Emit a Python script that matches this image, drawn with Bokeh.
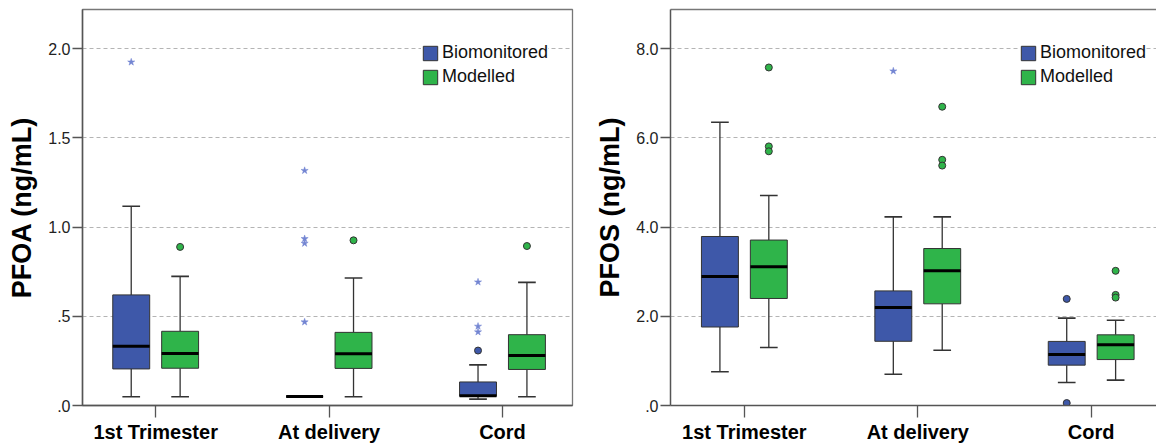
from bokeh.plotting import figure
from bokeh.layouts import row
from bokeh.models import (FixedTicker, CustomJSTickFormatter, Legend, LegendItem,
                          LinearAxis)
from bokeh.embed import file_html
from bokeh.resources import INLINE

categories = ["1st Trimester", "At delivery", "Cord"]
series_names = ["Biomonitored", "Modelled"]

# ---------------- PFOA (ng/mL) ----------------
pfoa_bio_low = [0.049, 0.050, 0.036]
pfoa_bio_q1 = [0.205, 0.050, 0.052]
pfoa_bio_med = [0.332, 0.050, 0.054]
pfoa_bio_q3 = [0.620, 0.050, 0.132]
pfoa_bio_high = [1.117, 0.050, 0.228]
pfoa_bio_circles = [[], [], [0.308]]
pfoa_bio_stars = [[1.925], [1.317, 0.935, 0.909, 0.468], [0.692, 0.444, 0.412]]

pfoa_mod_low = [0.049, 0.049, 0.049]
pfoa_mod_q1 = [0.209, 0.208, 0.202]
pfoa_mod_med = [0.291, 0.290, 0.281]
pfoa_mod_q3 = [0.416, 0.410, 0.397]
pfoa_mod_high = [0.724, 0.715, 0.690]
pfoa_mod_circles = [[0.889], [0.926], [0.894]]
pfoa_mod_stars = [[], [], []]

# ---------------- PFOS (ng/mL) ----------------
pfos_bio_low = [0.756, 0.700, 0.516]
pfos_bio_q1 = [1.760, 1.440, 0.905]
pfos_bio_med = [2.890, 2.200, 1.145]
pfos_bio_q3 = [3.790, 2.570, 1.437]
pfos_bio_high = [6.350, 4.230, 1.960]
pfos_bio_circles = [[], [], [2.390, 0.055]]
pfos_bio_stars = [[], [7.500], []]

pfos_mod_low = [1.300, 1.240, 0.570]
pfos_mod_q1 = [2.400, 2.280, 1.030]
pfos_mod_med = [3.110, 3.020, 1.360]
pfos_mod_q3 = [3.710, 3.520, 1.585]
pfos_mod_high = [4.710, 4.230, 1.910]
pfos_mod_circles = [[7.580, 5.810, 5.700], [6.700, 5.510, 5.380], [3.020, 2.480, 2.420]]
pfos_mod_stars = [[], [], []]

pfoa_ticks = [0.0, 0.5, 1.0, 1.5, 2.0]
pfos_ticks = [0.0, 2.0, 4.0, 6.0, 8.0]

BLUE = "#3e58a9"
GREEN = "#2fb44a"
STAR = "#7385d2"
EDGE = "#333333"
FONT = "Liberation Sans"

OFFSETS = [-0.141, 0.141]
BOX_W = 0.213
CAP_W = 0.102


def draw_series(p, off, low, q1, med, q3, high, circles, stars, color):
    xs = [i + 1 + off for i in range(len(categories))]
    # whiskers
    p.segment(x0=xs, y0=q3, x1=xs, y1=high, line_color=EDGE, line_width=1.3)
    p.segment(x0=xs, y0=q1, x1=xs, y1=low, line_color=EDGE, line_width=1.3)
    cl = [x - CAP_W / 2 for x in xs]
    cr = [x + CAP_W / 2 for x in xs]
    p.segment(x0=cl, y0=high, x1=cr, y1=high, line_color=EDGE, line_width=1.6)
    p.segment(x0=cl, y0=low, x1=cr, y1=low, line_color=EDGE, line_width=1.6)
    # boxes
    bl = [x - BOX_W / 2 for x in xs]
    br = [x + BOX_W / 2 for x in xs]
    box = p.quad(left=bl, right=br, bottom=q1, top=q3, fill_color=color,
                 line_color=EDGE, line_width=1.0)
    p.segment(x0=bl, y0=med, x1=br, y1=med, line_color="black", line_width=3)
    # outliers
    ox, oy = [], []
    for x, vals in zip(xs, circles):
        for v in vals:
            ox.append(x)
            oy.append(v)
    if ox:
        p.scatter(ox, oy, marker="circle", size=7, fill_color=color,
                  line_color=EDGE, line_width=1)
    sx, sy = [], []
    for x, vals in zip(xs, stars):
        for v in vals:
            sx.append(x)
            sy.append(v)
    if sx:
        p.scatter(sx, sy, marker="star", size=7.5, fill_color=STAR,
                  line_color=STAR, line_width=0.5)
    return box


def make_panel(title_label, ticks, ymax, x_start, frame_w, border_left,
               border_right, outline, legend_xy, data_bio, data_mod):
    p = figure(frame_width=frame_w, frame_height=396,
               x_range=(x_start, x_start + frame_w / 173.4),
               y_range=(0, ymax),
               min_border_left=border_left, min_border_right=border_right,
               min_border_top=9, min_border_bottom=39,
               output_backend="svg", toolbar_location=None,
               background_fill_color="white", border_fill_color="white")
    p.outline_line_color = "#777777" if outline else None
    p.outline_line_width = 1.3

    p.xgrid.visible = False
    p.ygrid.ticker = FixedTicker(ticks=ticks[1:])
    p.ygrid.grid_line_color = "#b4b4b4"
    p.ygrid.grid_line_dash = "4 3"
    p.ygrid.grid_line_width = 1

    # y axis
    ya = p.yaxis[0]
    ya.ticker = FixedTicker(ticks=ticks)
    ya.formatter = CustomJSTickFormatter(
        code="const s = tick.toFixed(1); return s.charAt(0) == '0' ? s.substring(1) : s;")
    ya.axis_label = title_label
    ya.axis_label_text_font = FONT
    ya.axis_label_text_font_size = "27px"
    ya.axis_label_text_font_style = "bold"
    ya.axis_label_text_color = "black"
    ya.axis_label_standoff = 8
    ya.major_label_text_font = FONT
    ya.major_label_text_font_size = "16px"
    ya.major_label_text_color = "#222222"
    ya.major_label_standoff = 2
    ya.major_tick_out = 10
    ya.major_tick_in = 0
    ya.minor_tick_out = 0
    ya.minor_tick_in = 0
    ya.axis_line_color = "#555555"
    ya.axis_line_width = 1.5
    ya.major_tick_line_color = "#555555"
    ya.major_tick_line_width = 1.3

    # x axis
    xa = p.xaxis[0]
    xa.ticker = FixedTicker(ticks=[1, 2, 3])
    xa.formatter = CustomJSTickFormatter(
        args=dict(labels=categories),
        code="const i = Math.round(tick) - 1; return (i >= 0 && i < labels.length) ? labels[i] : '';")
    xa.major_label_text_font = FONT
    xa.major_label_text_font_size = "20px"
    xa.major_label_text_font_style = "bold"
    xa.major_label_text_color = "black"
    xa.major_label_standoff = 3
    xa.major_tick_out = 12
    xa.major_tick_in = 0
    xa.minor_tick_out = 0
    xa.minor_tick_in = 0
    xa.axis_line_color = "#555555"
    xa.axis_line_width = 1.5
    xa.major_tick_line_color = "#555555"
    xa.major_tick_line_width = 1.3

    if not outline:
        top = LinearAxis(ticker=FixedTicker(ticks=[]), major_tick_out=0,
                         major_tick_in=0, minor_tick_out=0, minor_tick_in=0,
                         major_label_standoff=0, axis_line_color="#777777",
                         axis_line_width=1.3, major_label_text_font_size="0px")
        p.add_layout(top, "above")

    b = draw_series(p, OFFSETS[0], *data_bio, BLUE)
    m = draw_series(p, OFFSETS[1], *data_mod, GREEN)

    legend = Legend(items=[LegendItem(label=series_names[0], renderers=[b]),
                           LegendItem(label=series_names[1], renderers=[m])],
                    location=legend_xy)
    legend.label_text_font = FONT
    legend.label_text_font_size = "18px"
    legend.label_text_color = "#111111"
    legend.glyph_width = 18
    legend.glyph_height = 18
    legend.label_standoff = 3
    legend.spacing = 3
    legend.padding = 10
    legend.margin = 0
    legend.border_line_color = None
    legend.background_fill_color = "white"
    legend.background_fill_alpha = 1.0
    p.add_layout(legend)
    return p


p1 = make_panel("PFOA (ng/mL)", pfoa_ticks, 2.22, 0.578, 490, 82, 2, True, (339, 318),
                (pfoa_bio_low, pfoa_bio_q1, pfoa_bio_med, pfoa_bio_q3, pfoa_bio_high,
                 pfoa_bio_circles, pfoa_bio_stars),
                (pfoa_mod_low, pfoa_mod_q1, pfoa_mod_med, pfoa_mod_q3, pfoa_mod_high,
                 pfoa_mod_circles, pfoa_mod_stars))

p2 = make_panel("PFOS (ng/mL)", pfos_ticks, 8.88, 0.574, 486, 96, 0, False, (349, 318),
                (pfos_bio_low, pfos_bio_q1, pfos_bio_med, pfos_bio_q3, pfos_bio_high,
                 pfos_bio_circles, pfos_bio_stars),
                (pfos_mod_low, pfos_mod_q1, pfos_mod_med, pfos_mod_q3, pfos_mod_high,
                 pfos_mod_circles, pfos_mod_stars))

layout = row(p1, p2)

open("out.html", "w").write(file_html(layout, INLINE))
